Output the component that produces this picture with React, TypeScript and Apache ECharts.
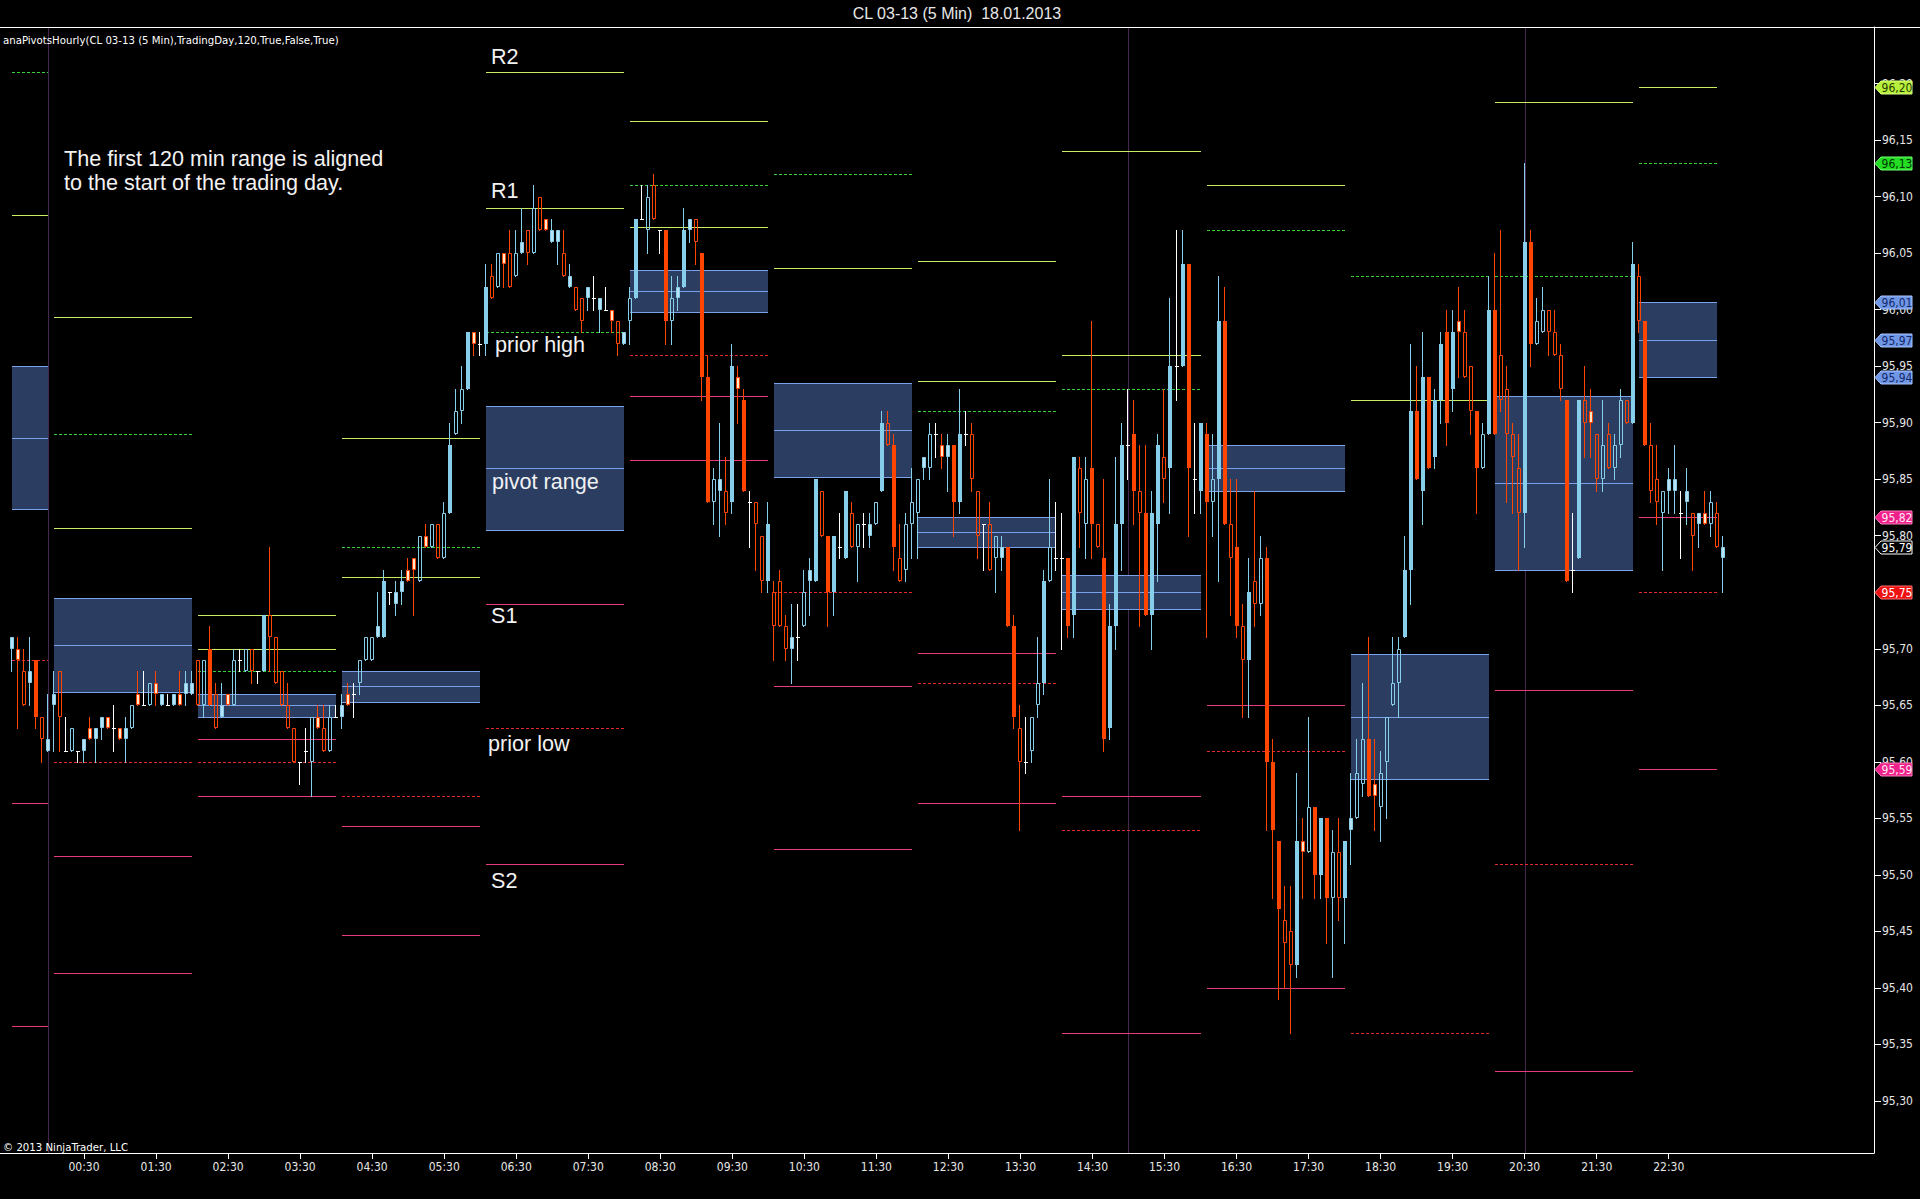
import React, { useEffect, useRef } from "react";
import * as echarts from "echarts";

// ---------------- texts ----------------
const TITLE = "CL 03-13 (5 Min)  18.01.2013";
const INDICATOR = "anaPivotsHourly(CL 03-13 (5 Min),TradingDay,120,True,False,True)";
const COPYRIGHT = "© 2013 NinjaTrader, LLC";
const NOTE_LINES = ["The first 120 min range is aligned", "to the start of the trading day."];

// ---------------- time base ----------------
// bar close times in minutes from midnight of 18.01.2013; first bar 23:30 of the previous day
const FIRST_BAR_MIN = -30;
const BAR_MIN = 5;
const PERIOD_MIN = 120;

// ---------------- 5 min bars ----------------
const opens = [
  95.70, 95.70, 95.68, 95.67, 95.69, 95.64, 95.61,
  95.65, 95.68, 95.61, 95.61, 95.61, 95.61, 95.63, 95.62, 95.63, 95.64, 95.63, 95.63, 95.62, 95.63, 95.66, 95.65, 95.65, 95.67, 95.65, 95.65, 95.65, 95.66, 95.66, 95.66,
  95.69, 95.65, 95.70, 95.66, 95.64, 95.66, 95.65, 95.69, 95.68, 95.70, 95.68, 95.68, 95.73, 95.71, 95.68, 95.65, 95.63, 95.60, 95.61, 95.60, 95.64, 95.63, 95.61, 95.64,
  95.64, 95.66, 95.66, 95.67, 95.69, 95.69, 95.71, 95.71, 95.75, 95.74, 95.75, 95.77, 95.78, 95.76, 95.80, 95.79, 95.81, 95.78, 95.82, 95.89, 95.91, 95.93, 95.98, 95.97,
  95.97, 96.03, 96.02, 96.05, 96.05, 96.03, 96.05, 96.07, 96.05, 96.10, 96.08, 96.06, 96.06, 96.05, 96.02, 96.02, 96.01, 96.01, 96.01, 96.00, 96.00, 96.00, 95.99, 95.97,
  95.99, 96.01, 96.08, 96.07, 96.11, 96.07, 96.07, 95.99, 96.01, 96.02, 96.07, 96.08, 96.05, 95.94, 95.83, 95.84, 95.84, 95.83, 95.94, 95.92, 95.83, 95.83, 95.80, 95.76,
  95.75, 95.76, 95.72, 95.70, 95.71, 95.72, 95.76, 95.76, 95.84, 95.80, 95.75, 95.79, 95.78, 95.82, 95.79, 95.81, 95.80, 95.81, 95.84, 95.90, 95.88, 95.78, 95.77, 95.81,
  95.82, 95.86, 95.86, 95.89, 95.88, 95.87, 95.88, 95.83, 95.89, 95.89, 95.84, 95.81, 95.81, 95.78, 95.78, 95.79, 95.72, 95.63, 95.60, 95.61, 95.65, 95.67, 95.76, 95.78,
  95.78, 95.78, 95.73, 95.86, 95.81, 95.86, 95.81, 95.78, 95.63, 95.72, 95.81, 95.88, 95.89, 95.84, 95.82, 95.73, 95.81, 95.87, 95.86, 95.95, 95.95, 96.04, 95.85, 95.84,
  95.89, 95.83, 95.85, 95.99, 95.81, 95.79, 95.72, 95.69, 95.76, 95.74, 95.78, 95.60, 95.53, 95.46, 95.45, 95.42, 95.53, 95.52, 95.56, 95.50, 95.55, 95.48, 95.52, 95.48,
  95.54, 95.55, 95.58, 95.62, 95.58, 95.56, 95.60, 95.65, 95.67, 95.71, 95.77, 95.91, 95.84, 95.94, 95.87, 95.92, 95.98, 95.93, 95.99, 95.98, 95.95, 95.91, 95.86, 95.89,
  96.00, 95.96, 95.93, 95.89, 95.86, 95.82, 96.06, 95.97, 95.98, 96.00, 95.98, 95.96, 95.92, 95.77, 95.78, 95.92, 95.91, 95.89, 95.85, 95.89, 95.86, 95.88, 95.92, 95.90,
  96.03, 95.99, 95.88, 95.85, 95.82, 95.84, 95.84, 95.82, 95.83, 95.82, 95.81, 95.82, 95.81, 95.82, 95.78,
];
const highs = [
  95.71, 95.71, 95.70, 95.71, 95.69, 95.64, 95.66,
  95.68, 95.68, 95.64, 95.63, 95.61, 95.62, 95.64, 95.63, 95.64, 95.64, 95.65, 95.63, 95.64, 95.65, 95.68, 95.68, 95.67, 95.68, 95.66, 95.66, 95.66, 95.68, 95.68, 95.68,
  95.69, 95.69, 95.72, 95.67, 95.67, 95.66, 95.70, 95.70, 95.70, 95.70, 95.68, 95.73, 95.79, 95.71, 95.68, 95.67, 95.63, 95.60, 95.63, 95.64, 95.65, 95.65, 95.65, 95.65,
  95.66, 95.67, 95.67, 95.69, 95.71, 95.71, 95.75, 95.77, 95.75, 95.76, 95.77, 95.78, 95.78, 95.80, 95.81, 95.81, 95.81, 95.83, 95.90, 95.93, 95.95, 95.98, 95.98, 95.98,
  96.04, 96.04, 96.05, 96.05, 96.07, 96.07, 96.09, 96.07, 96.11, 96.10, 96.08, 96.08, 96.07, 96.07, 96.04, 96.02, 96.01, 96.02, 96.03, 96.01, 96.02, 96.00, 95.99, 95.98,
  96.02, 96.08, 96.11, 96.11, 96.12, 96.07, 96.07, 96.03, 96.03, 96.09, 96.08, 96.08, 96.05, 95.96, 95.86, 95.90, 95.87, 95.97, 95.95, 95.93, 95.84, 95.83, 95.80, 95.83,
  95.76, 95.77, 95.73, 95.74, 95.74, 95.77, 95.78, 95.85, 95.84, 95.80, 95.80, 95.82, 95.84, 95.83, 95.81, 95.82, 95.82, 95.83, 95.91, 95.91, 95.89, 95.81, 95.82, 95.86,
  95.85, 95.87, 95.90, 95.90, 95.89, 95.89, 95.88, 95.93, 95.91, 95.90, 95.84, 95.81, 95.83, 95.80, 95.80, 95.79, 95.73, 95.65, 95.64, 95.64, 95.71, 95.77, 95.85, 95.83,
  95.82, 95.78, 95.87, 95.87, 95.87, 95.99, 95.81, 95.85, 95.74, 95.87, 95.90, 95.93, 95.92, 95.88, 95.88, 95.84, 95.89, 95.93, 96.01, 96.07, 96.07, 96.04, 95.90, 95.90,
  95.90, 95.89, 96.03, 96.02, 95.85, 95.85, 95.74, 95.78, 95.84, 95.80, 95.79, 95.62, 95.53, 95.49, 95.49, 95.59, 95.55, 95.64, 95.56, 95.55, 95.55, 95.54, 95.55, 95.53,
  95.59, 95.62, 95.67, 95.71, 95.62, 95.61, 95.64, 95.71, 95.71, 95.80, 95.97, 95.95, 95.98, 95.94, 95.93, 95.98, 96.00, 96.00, 96.02, 96.00, 95.95, 95.91, 95.90, 96.03,
  96.05, 96.07, 95.95, 95.90, 95.89, 96.13, 96.07, 96.01, 96.02, 96.00, 96.00, 95.97, 95.92, 95.82, 95.92, 95.95, 95.93, 95.89, 95.92, 95.90, 95.89, 95.93, 95.92, 96.06,
  96.04, 95.99, 95.90, 95.88, 95.84, 95.86, 95.88, 95.84, 95.86, 95.82, 95.82, 95.84, 95.84, 95.83, 95.80,
];
const lows = [
  95.68, 95.63, 95.65, 95.65, 95.63, 95.60, 95.61,
  95.61, 95.61, 95.61, 95.61, 95.60, 95.60, 95.62, 95.60, 95.62, 95.63, 95.61, 95.62, 95.60, 95.63, 95.65, 95.65, 95.65, 95.65, 95.65, 95.65, 95.65, 95.65, 95.65, 95.66,
  95.65, 95.64, 95.65, 95.63, 95.64, 95.65, 95.65, 95.68, 95.68, 95.67, 95.67, 95.68, 95.68, 95.67, 95.65, 95.63, 95.60, 95.58, 95.60, 95.57, 95.63, 95.61, 95.61, 95.64,
  95.63, 95.65, 95.64, 95.66, 95.69, 95.69, 95.71, 95.71, 95.74, 95.73, 95.74, 95.76, 95.73, 95.76, 95.79, 95.79, 95.78, 95.78, 95.82, 95.89, 95.90, 95.93, 95.96, 95.96,
  95.96, 96.01, 96.02, 96.02, 96.02, 96.03, 96.05, 96.04, 96.05, 96.07, 96.07, 96.06, 96.04, 96.03, 96.02, 96.00, 95.98, 96.00, 96.00, 95.98, 96.00, 95.98, 95.96, 95.97,
  95.97, 96.01, 96.08, 96.05, 96.08, 96.05, 95.97, 95.97, 96.00, 96.02, 96.06, 96.04, 95.92, 95.83, 95.81, 95.80, 95.81, 95.82, 95.90, 95.84, 95.79, 95.77, 95.75, 95.75,
  95.69, 95.72, 95.69, 95.67, 95.69, 95.72, 95.73, 95.76, 95.80, 95.72, 95.73, 95.78, 95.78, 95.79, 95.76, 95.79, 95.79, 95.81, 95.84, 95.88, 95.77, 95.76, 95.76, 95.78,
  95.78, 95.85, 95.85, 95.87, 95.86, 95.84, 95.80, 95.82, 95.88, 95.84, 95.78, 95.77, 95.77, 95.75, 95.77, 95.72, 95.63, 95.54, 95.59, 95.60, 95.64, 95.66, 95.76, 95.77,
  95.70, 95.71, 95.71, 95.79, 95.78, 95.78, 95.79, 95.61, 95.62, 95.70, 95.77, 95.85, 95.81, 95.72, 95.73, 95.70, 95.76, 95.83, 95.82, 95.92, 95.95, 95.80, 95.82, 95.82,
  95.71, 95.80, 95.76, 95.81, 95.73, 95.71, 95.64, 95.64, 95.72, 95.73, 95.54, 95.48, 95.39, 95.40, 95.36, 95.41, 95.48, 95.52, 95.48, 95.48, 95.44, 95.41, 95.46, 95.44,
  95.51, 95.55, 95.57, 95.57, 95.54, 95.53, 95.55, 95.65, 95.64, 95.71, 95.74, 95.85, 95.81, 95.86, 95.86, 95.90, 95.88, 95.91, 95.94, 95.94, 95.89, 95.82, 95.86, 95.89,
  95.89, 95.91, 95.83, 95.82, 95.77, 95.79, 95.95, 95.97, 95.98, 95.96, 95.96, 95.92, 95.76, 95.75, 95.78, 95.87, 95.87, 95.84, 95.84, 95.86, 95.85, 95.87, 95.90, 95.90,
  95.98, 95.88, 95.83, 95.81, 95.77, 95.82, 95.82, 95.78, 95.81, 95.77, 95.79, 95.81, 95.80, 95.79, 95.75,
];
const closes = [
  95.71, 95.69, 95.65, 95.68, 95.64, 95.62, 95.62,
  95.66, 95.64, 95.61, 95.63, 95.61, 95.62, 95.62, 95.63, 95.64, 95.63, 95.63, 95.62, 95.63, 95.65, 95.65, 95.65, 95.67, 95.66, 95.66, 95.65, 95.66, 95.65, 95.67, 95.67,
  95.65, 95.69, 95.65, 95.63, 95.65, 95.65, 95.69, 95.69, 95.70, 95.68, 95.68, 95.73, 95.71, 95.67, 95.65, 95.63, 95.60, 95.60, 95.61, 95.64, 95.63, 95.61, 95.64, 95.64,
  95.65, 95.65, 95.66, 95.69, 95.71, 95.71, 95.72, 95.76, 95.75, 95.75, 95.76, 95.76, 95.77, 95.80, 95.79, 95.81, 95.78, 95.82, 95.88, 95.91, 95.93, 95.98, 95.97, 95.97,
  96.02, 96.01, 96.05, 96.04, 96.02, 96.05, 96.06, 96.05, 96.09, 96.07, 96.07, 96.07, 96.07, 96.03, 96.03, 96.00, 95.99, 96.02, 96.01, 96.01, 96.00, 95.99, 95.97, 95.98,
  96.01, 96.08, 96.08, 96.10, 96.08, 96.07, 95.99, 96.01, 96.02, 96.07, 96.08, 96.06, 95.94, 95.83, 95.85, 95.85, 95.82, 95.95, 95.93, 95.84, 95.83, 95.81, 95.76, 95.81,
  95.72, 95.72, 95.70, 95.71, 95.71, 95.75, 95.77, 95.85, 95.80, 95.75, 95.80, 95.79, 95.84, 95.79, 95.81, 95.81, 95.81, 95.83, 95.90, 95.88, 95.79, 95.76, 95.81, 95.83,
  95.85, 95.87, 95.89, 95.89, 95.87, 95.88, 95.83, 95.89, 95.89, 95.85, 95.80, 95.81, 95.77, 95.80, 95.79, 95.72, 95.64, 95.60, 95.60, 95.64, 95.67, 95.76, 95.79, 95.78,
  95.78, 95.72, 95.87, 95.82, 95.85, 95.81, 95.79, 95.62, 95.72, 95.81, 95.88, 95.88, 95.84, 95.82, 95.73, 95.82, 95.88, 95.85, 95.95, 95.95, 96.04, 95.86, 95.85, 95.90,
  95.83, 95.85, 95.99, 95.81, 95.78, 95.72, 95.69, 95.75, 95.74, 95.78, 95.60, 95.54, 95.47, 95.44, 95.42, 95.53, 95.52, 95.56, 95.50, 95.55, 95.48, 95.52, 95.48, 95.53,
  95.55, 95.59, 95.62, 95.57, 95.57, 95.59, 95.64, 95.67, 95.70, 95.77, 95.91, 95.85, 95.94, 95.86, 95.92, 95.97, 95.90, 95.98, 95.98, 95.94, 95.91, 95.86, 95.89, 96.00,
  95.89, 95.92, 95.89, 95.87, 95.82, 96.06, 95.97, 95.99, 96.00, 95.98, 95.96, 95.93, 95.76, 95.77, 95.92, 95.90, 95.90, 95.85, 95.88, 95.86, 95.88, 95.92, 95.90, 96.04,
  95.99, 95.88, 95.84, 95.83, 95.84, 95.85, 95.85, 95.82, 95.84, 95.80, 95.82, 95.81, 95.83, 95.79, 95.79,
];

// prior-period high / low / close of the two periods whose source bars lie before the chart
// (20:00-22:00 and 22:00-24:00 of 17.01.2013)
const offChartPriorHigh = [96.21, 95.89];
const offChartPriorLow = [95.69, 95.60];
const offChartPriorClose = [95.76, 95.62];

// axis ticks
const xTickMinutes = [30, 90, 150, 210, 270, 330, 390, 450, 510, 570, 630, 690, 750, 810, 870, 930, 990, 1050, 1110, 1170, 1230, 1290, 1350];
const yTickValues = [95.30, 95.35, 95.40, 95.45, 95.50, 95.55, 95.60, 95.65, 95.70, 95.75, 95.80, 95.85, 95.90, 95.95, 96.00, 96.05, 96.10, 96.15, 96.20];
const sessionBreakMinutes = [0, 900, 1230];

const X_MIN = -40;
const X_MAX = 1521;
const Y_MIN = 95.254;
const Y_MAX = 96.25;

// ---------------- styles ----------------
const UP = "#87CEEB";
const UP_TINT = "#b9e3f5";
const DOWN = "#FF4500";
const DOWN_TINT = "#ffe6c8";
const DOJI = "#ffffff";
const BOX_FILL = "#2b3e62";
const BOX_LINE = "#7aa2ea";
const R_COLOR = "#c6ee5e";
const PH_COLOR = "#35d035";
const PL_COLOR = "#e42a2a";
const S_COLOR = "#e8397e";
const SESSION = "#45284f";
const NARROW = '"Liberation Sans Narrow", "Arial Narrow", "DejaVu Sans Condensed", "Liberation Sans", sans-serif';
const SANS = '"Liberation Sans", Arial, sans-serif';

function minutesLabel(v: number) {
  const m = ((Math.round(v) % 1440) + 1440) % 1440;
  const h = Math.floor(m / 60);
  const mm = m % 60;
  return String(h).padStart(2, "0") + ":" + String(mm).padStart(2, "0");
}
const priceLabel = (v: number) => v.toFixed(2).replace(".", ",");

export default function App() {
  const ref = useRef<HTMLDivElement>(null);

  useEffect(() => {
    document.body.style.margin = "0";
    document.body.style.background = "#000";
    const chart = echarts.init(ref.current!, null, { renderer: "svg" });

    const barTimes = opens.map((_, i) => FIRST_BAR_MIN + i * BAR_MIN);
    const candleData = opens.map((o, i) => [barTimes[i], o, closes[i], lows[i], highs[i]]);

    // group bars into 120-min periods (bar stamped with close time)
    const periodOf = (t: number) => Math.floor((t - 1) / PERIOD_MIN);
    const groups = new Map<number, number[]>();
    barTimes.forEach((t, i) => {
      const k = periodOf(t);
      if (!groups.has(k)) groups.set(k, []);
      groups.get(k)!.push(i);
    });
    const periods = Array.from(groups.keys()).sort((a, b) => a - b);
    const lastPlotted = barTimes[barTimes.length - 2];

    const pivotRows = periods.map((k, j) => {
      let H: number, L: number, C: number;
      if (j < offChartPriorHigh.length) {
        H = offChartPriorHigh[j];
        L = offChartPriorLow[j];
        C = offChartPriorClose[j];
      } else {
        const prev = groups.get(periods[j - 1])!;
        H = Math.max(...prev.map((i) => highs[i]));
        L = Math.min(...prev.map((i) => lows[i]));
        C = closes[prev[prev.length - 1]];
      }
      const idx = groups.get(k)!;
      const t0 = barTimes[idx[0]];
      const t1 = Math.min(barTimes[idx[idx.length - 1]], lastPlotted);
      const P = (H + L + C) / 3;
      const R1 = 2 * P - L;
      const S1 = 2 * P - H;
      const R2 = P + (H - L);
      const S2 = P - (H - L);
      const BC = (H + L) / 2;
      const TC = 2 * P - BC;
      return [t0, t1, R2, R1, H, TC, P, BC, S1, L, S2];
    });

    // right-axis price badges: last plotted levels + last price
    const last = pivotRows[pivotRows.length - 1];
    const badgeKinds = ["r", "r", "ph", "pv", "pv", "pv", "s", "pl", "s"];
    const badgeData: number[][] = [];
    last.slice(2).forEach((v, i) => {
      if (v >= Y_MIN && v <= Y_MAX) badgeData.push([X_MAX, v, i]);
    });
    badgeData.push([X_MAX, closes[closes.length - 1], 99]);
    const badgeStyle = (code: number) => {
      if (code === 99) return { bg: "#000000", border: "#ffffff", fg: "#ffffff" };
      const k = badgeKinds[code];
      if (k === "r") return { bg: "#b7f03c", border: "#d8ff80", fg: "#2a3a00" };
      if (k === "ph") return { bg: "#22dd22", border: "#70ff70", fg: "#003300" };
      if (k === "pv") return { bg: "#6f97e6", border: "#a8c4ff", fg: "#16286a" };
      if (k === "s") return { bg: "#f0208a", border: "#ff80c0", fg: "#ffe8f4" };
      return { bg: "#ee1111", border: "#ff7070", fg: "#ffffff" };
    };

    const candleSeries: any = {
      type: "custom",
      name: "bars",
      z: 5,
      clip: true,
      silent: true,
      encode: { x: 0, y: [1, 2, 3, 4] },
      data: candleData,
      renderItem: (_p: any, api: any) => {
        const t = api.value(0), o = api.value(1), c = api.value(2), l = api.value(3), h = api.value(4);
        const p0 = api.coord([t, o]);
        const n = Math.round(p0[0]);
        const yo = p0[1];
        const yc = api.coord([t, c])[1];
        const yL = Math.round(api.coord([t, l])[1]);
        const yH = Math.round(api.coord([t, h])[1]);
        const wx = n - 0.5;
        const d = Math.abs(c - o);
        if (d < 0.005) {
          const yy = Math.round(yo) + 0.5;
          return {
            type: "group",
            children: [
              { type: "line", shape: { x1: wx, y1: yH, x2: wx, y2: yL + 1 }, style: { stroke: DOJI, lineWidth: 1 } },
              { type: "line", shape: { x1: n - 2, y1: yy, x2: n + 2, y2: yy }, style: { stroke: DOJI, lineWidth: 1 } },
            ],
          };
        }
        const up = c > o;
        const col = up ? UP : DOWN;
        const top = Math.round(Math.min(yo, yc));
        const bot = Math.round(Math.max(yo, yc));
        const children: any[] = [
          { type: "line", shape: { x1: wx, y1: yH, x2: wx, y2: top }, style: { stroke: col, lineWidth: 1 } },
          { type: "line", shape: { x1: wx, y1: bot, x2: wx, y2: yL + 1 }, style: { stroke: col, lineWidth: 1 } },
        ];
        if (d >= 0.045) {
          children.push({ type: "rect", shape: { x: n - 2, y: top, width: 4, height: Math.max(1, bot - top) }, style: { fill: col } });
        } else {
          const fill = d <= 0.015 ? (up ? UP_TINT : DOWN_TINT) : "none";
          children.push({
            type: "rect",
            shape: { x: n - 1.5, y: top + 0.5, width: 3, height: Math.max(1, bot - top - 1) },
            style: { fill, stroke: col, lineWidth: 1 },
          });
        }
        return { type: "group", children };
      },
    };

    const pivotSeries: any = {
      type: "custom",
      name: "pivots",
      z: 2,
      clip: true,
      silent: true,
      encode: { x: [0, 1], y: [2, 3, 4, 5, 6, 7, 8, 9, 10] },
      data: pivotRows,
      renderItem: (_p: any, api: any) => {
        const t0 = api.value(0), t1 = api.value(1);
        const v = [2, 3, 4, 5, 6, 7, 8, 9, 10].map((i) => api.value(i));
        const [R2, R1, PH, TC, P, BC, S1, PL, S2] = v;
        const x0 = Math.round(api.coord([t0, P])[0]);
        const x1 = Math.round(api.coord([t1, P])[0]);
        const yOf = (val: number) => Math.round(api.coord([t0, val])[1]) + 0.5;
        const hline = (val: number, color: string, dash?: number[]) => ({
          type: "line",
          shape: { x1: x0, y1: yOf(val), x2: x1, y2: yOf(val) },
          style: { stroke: color, lineWidth: 1, lineDash: dash },
        });
        const yTop = yOf(Math.max(TC, BC));
        const yBot = yOf(Math.min(TC, BC));
        return {
          type: "group",
          children: [
            { type: "rect", shape: { x: x0, y: yTop, width: x1 - x0, height: yBot - yTop }, style: { fill: BOX_FILL } },
            hline(TC, BOX_LINE),
            hline(BC, BOX_LINE),
            hline(P, BOX_LINE),
            hline(R2, R_COLOR),
            hline(R1, R_COLOR),
            hline(PH, PH_COLOR, [3, 2]),
            hline(PL, PL_COLOR, [3, 2]),
            hline(S1, S_COLOR),
            hline(S2, S_COLOR),
          ],
        };
      },
    };

    const sessionSeries: any = {
      type: "custom",
      name: "sessions",
      z: 1,
      clip: true,
      silent: true,
      encode: { x: 0 },
      data: sessionBreakMinutes.map((t) => [t, Y_MIN]),
      renderItem: (_p: any, api: any) => {
        const t = api.value(0);
        const a = api.coord([t, Y_MAX]);
        const b = api.coord([t, Y_MIN]);
        const x = Math.round(a[0]) + 0.5;
        return { type: "line", shape: { x1: x, y1: a[1], x2: x, y2: b[1] }, style: { stroke: SESSION, lineWidth: 1 } };
      },
    };

    const badgeSeries: any = {
      type: "custom",
      name: "badges",
      z: 20,
      clip: false,
      silent: true,
      encode: { x: 0, y: 1 },
      data: badgeData,
      renderItem: (_p: any, api: any) => {
        const v = api.value(1);
        const code = api.value(2);
        const st = badgeStyle(code);
        const pt = api.coord([X_MAX, v]);
        const x0 = Math.round(pt[0]);
        const cy = Math.round(pt[1]) + 0.5;
        return {
          type: "group",
          children: [
            {
              type: "polygon",
              shape: { points: [[x0 + 1, cy], [x0 + 7, cy - 6.5], [x0 + 38, cy - 6.5], [x0 + 38, cy + 6.5], [x0 + 7, cy + 6.5]] },
              style: { fill: st.bg, stroke: st.border, lineWidth: 1 },
            },
            {
              type: "text",
              style: { text: priceLabel(v), x: x0 + 23, y: cy + 0.5, fill: st.fg, font: "12px " + NARROW, textAlign: "center", textVerticalAlign: "middle" },
            },
          ],
        };
      },
    };

    const label = (text: string, x: number, y: number) => ({
      type: "text",
      z: 100,
      style: { text, x, y, fill: "#f2f2f2", font: "21.6px " + SANS, textAlign: "left", textVerticalAlign: "middle" },
    });

    const option: any = {
      animation: false,
      backgroundColor: "#000000",
      grid: { left: 0, right: 46, top: 27, bottom: 46, containLabel: false, outerBoundsMode: "none" },
      xAxis: {
        type: "value",
        min: X_MIN,
        max: X_MAX,
        axisLine: { show: true, onZero: false, lineStyle: { color: "#ffffff", width: 1 } },
        axisTick: { show: true, customValues: xTickMinutes, length: 6, lineStyle: { color: "#ffffff" } },
        axisLabel: { customValues: xTickMinutes, formatter: minutesLabel, color: "#e6e6e6", fontSize: 12, fontFamily: NARROW, margin: 8 },
        splitLine: { show: false },
      },
      yAxis: {
        type: "value",
        position: "right",
        min: Y_MIN,
        max: Y_MAX,
        axisLine: { show: true, onZero: false, lineStyle: { color: "#ffffff", width: 1 } },
        axisTick: { show: true, customValues: yTickValues, length: 7, lineStyle: { color: "#ffffff" } },
        axisLabel: { customValues: yTickValues, formatter: priceLabel, color: "#e6e6e6", fontSize: 12, fontFamily: NARROW, margin: 8 },
        splitLine: { show: false },
      },
      series: [sessionSeries, pivotSeries, candleSeries, badgeSeries],
      graphic: [
        { type: "line", z: 100, shape: { x1: 0, y1: 27.5, x2: 1920, y2: 27.5 }, style: { stroke: "#ffffff", lineWidth: 1 } },
        { type: "text", z: 100, style: { text: TITLE, x: 957, y: 13, fill: "#e8e8e8", font: "16px " + SANS, textAlign: "center", textVerticalAlign: "middle" } },
        { type: "text", z: 100, style: { text: INDICATOR, x: 3, y: 40, fill: "#ffffff", font: "11.3px " + NARROW, textAlign: "left", textVerticalAlign: "middle" } },
        { type: "text", z: 100, style: { text: COPYRIGHT, x: 3, y: 1147, fill: "#ffffff", font: "11.3px " + NARROW, textAlign: "left", textVerticalAlign: "middle" } },
        label(NOTE_LINES[0], 64, 158),
        label(NOTE_LINES[1], 64, 182),
        label("R2", 491, 56),
        label("R1", 491, 190),
        label("prior high", 495, 344),
        label("pivot range", 492, 481),
        label("S1", 491, 615),
        label("prior low", 488, 743),
        label("S2", 491, 880),
      ],
    };

    chart.setOption(option);
    return () => chart.dispose();
  }, []);

  return <div ref={ref} style={{ position: "fixed", left: 0, top: 0, width: 1920, height: 1199, background: "#000" }} />;
}
